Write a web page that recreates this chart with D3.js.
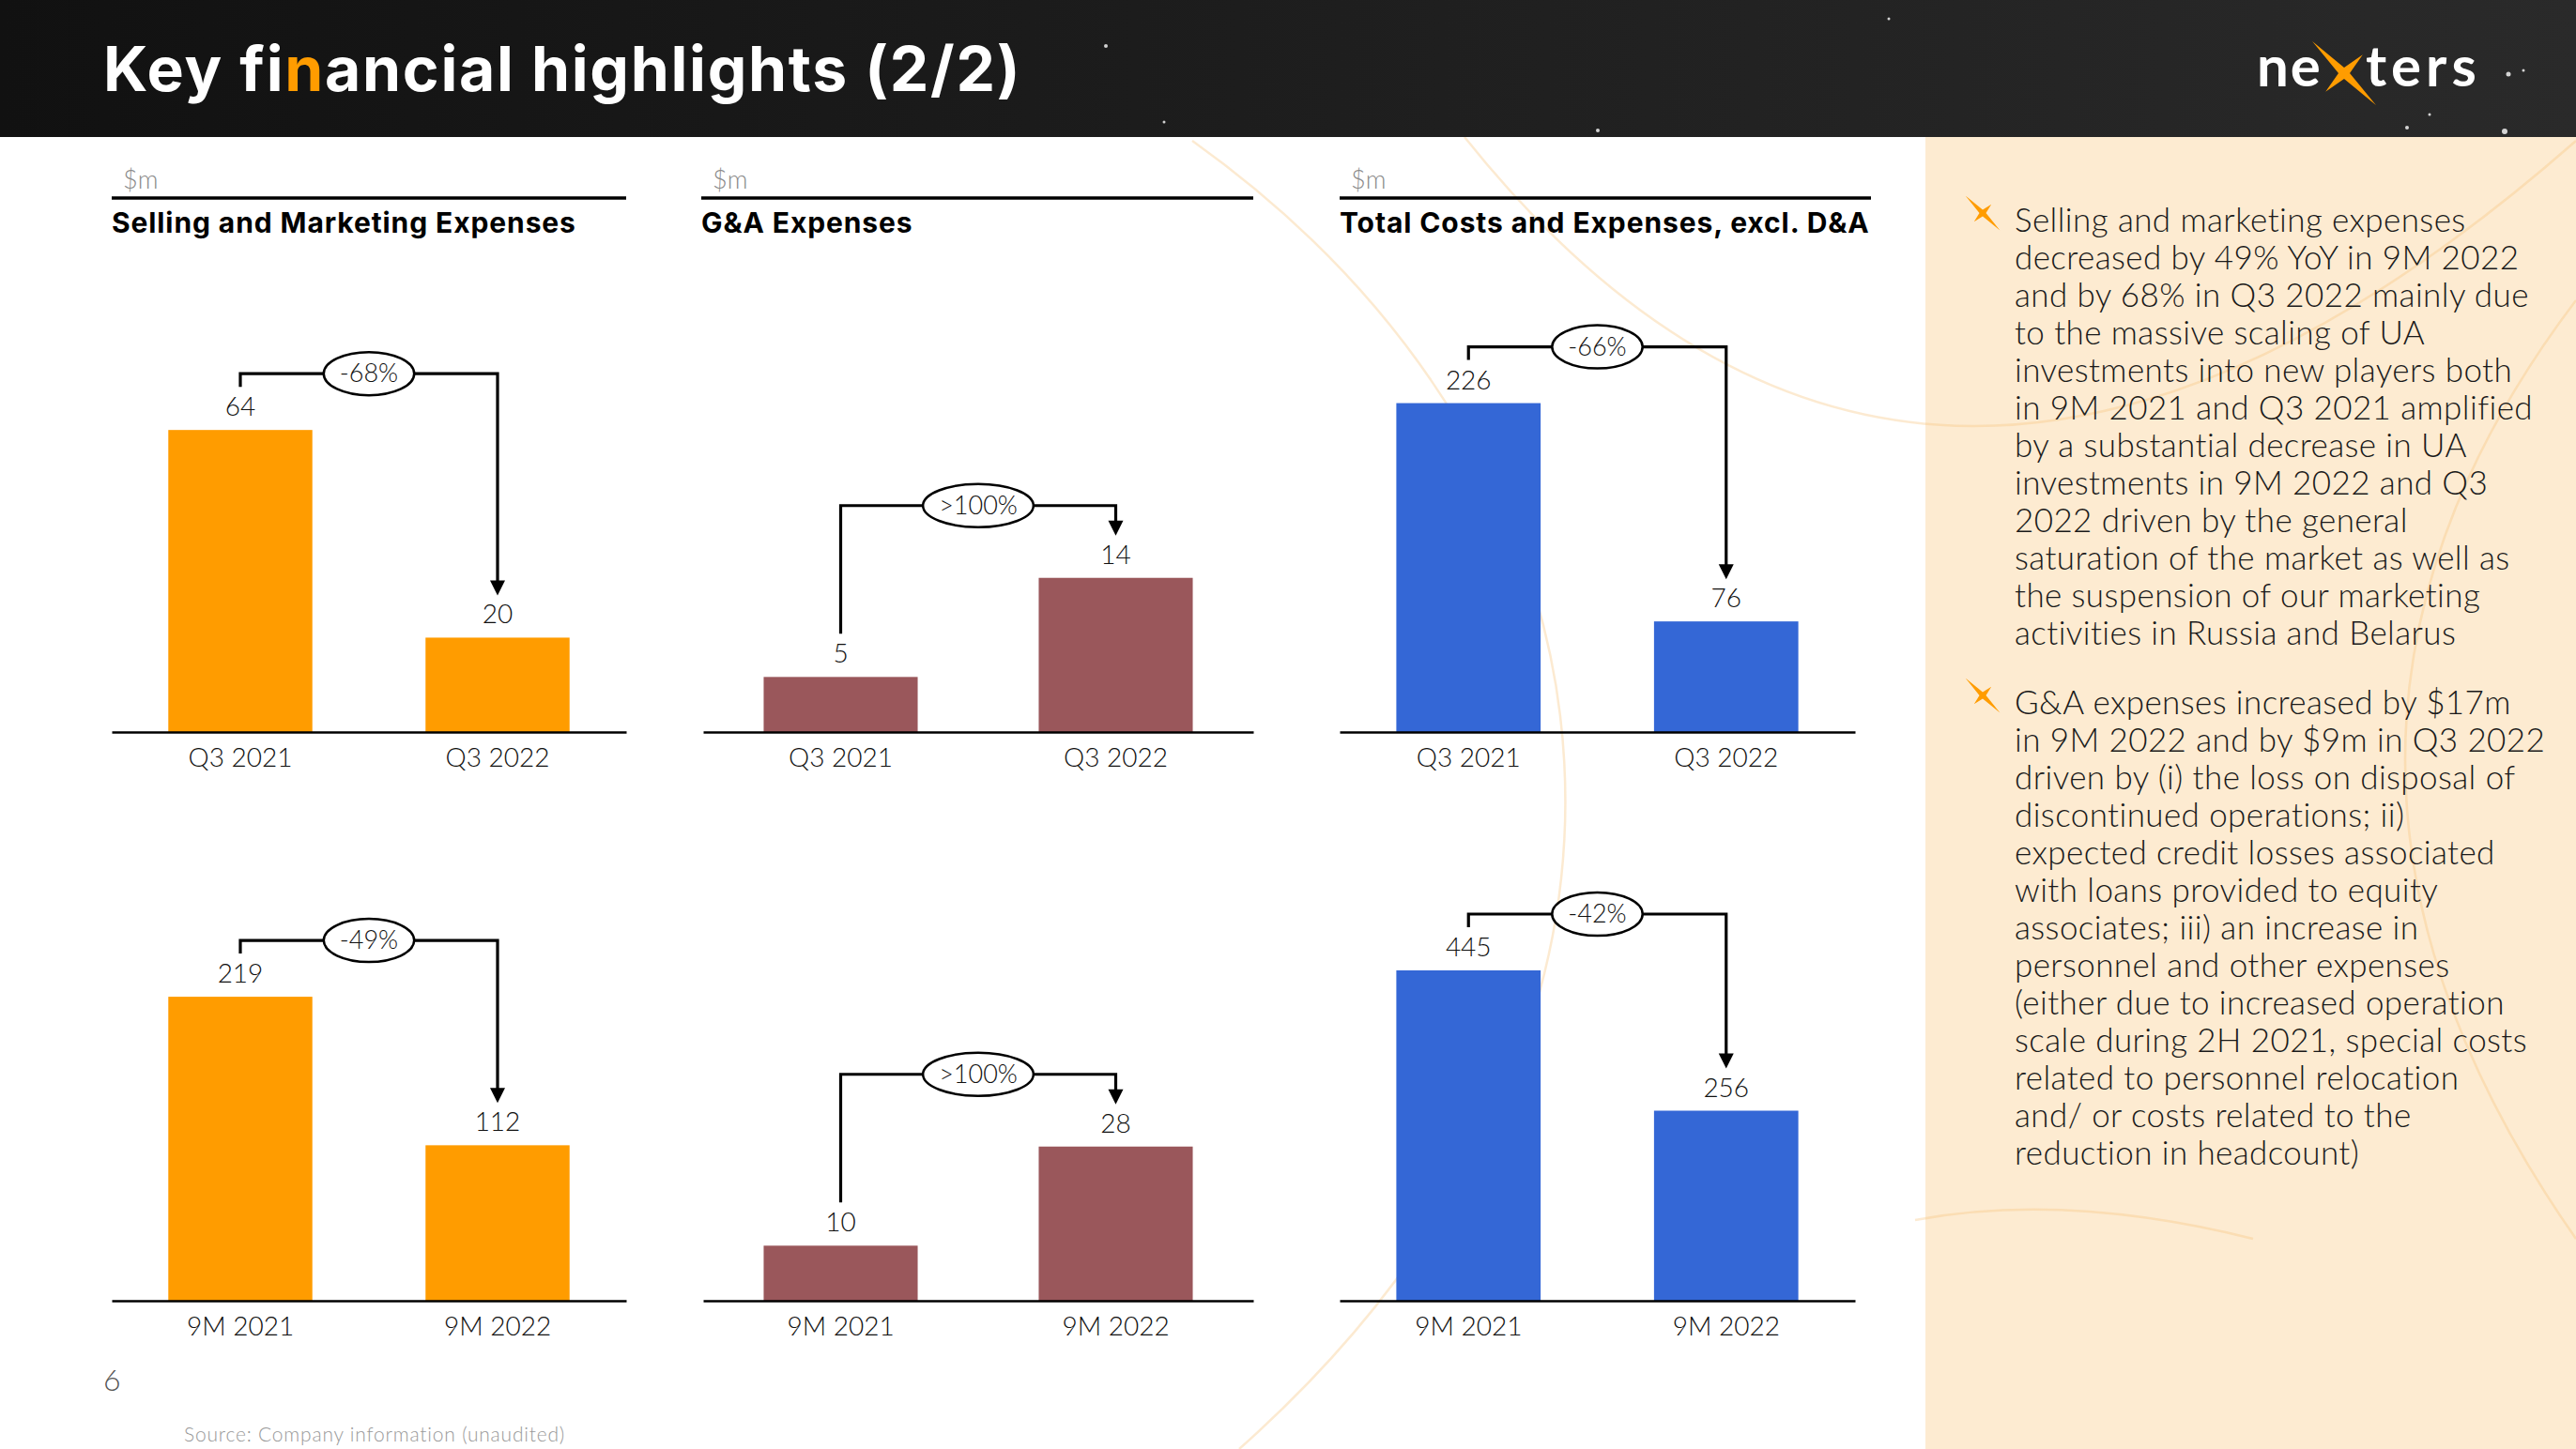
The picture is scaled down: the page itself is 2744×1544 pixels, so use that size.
<!DOCTYPE html>
<html>
<head>
<meta charset="utf-8">
<script src="https://cdn.jsdelivr.net/npm/d3@7"></script>
<style>
html, body { margin: 0; padding: 0; background: #fff; }
svg { display: block; }
</style>
</head>
<body>
<svg id="slide" width="2744" height="1544"></svg>
<script>
// ---- data ----
var panelTitles = ["Selling and Marketing Expenses", "G&A Expenses", "Total Costs and Expenses, excl. D&A"];
var quarterLabels = ["Q3 2021", "Q3 2022"];
var nineMonthLabels = ["9M 2021", "9M 2022"];
var sellingQ3 = [64, 20];
var selling9M = [219, 112];
var gaQ3 = [5, 14];
var ga9M = [10, 28];
var totalQ3 = [226, 76];
var total9M = [445, 256];
var sellingChange = ["-68%", "-49%"];
var gaChange = [">100%", ">100%"];
var totalChange = ["-66%", "-42%"];

var bulletOne = [
    "Selling and marketing expenses",
    "decreased by 49% YoY in 9M 2022",
    "and by 68% in Q3 2022 mainly due",
    "to the massive scaling of UA",
    "investments into new players both",
    "in 9M 2021 and Q3 2021 amplified",
    "by a substantial decrease in UA",
    "investments in 9M 2022 and Q3",
    "2022 driven by the general",
    "saturation of the market as well as",
    "the suspension of our marketing",
    "activities in Russia and Belarus"
];
var bulletTwo = [
    "G&A expenses increased by $17m",
    "in 9M 2022 and by $9m in Q3 2022",
    "driven by (i) the loss on disposal of",
    "discontinued operations; ii)",
    "expected credit losses associated",
    "with loans provided to equity",
    "associates; iii) an increase in",
    "personnel and other expenses",
    "(either due to increased operation",
    "scale during 2H 2021, special costs",
    "related to personnel relocation",
    "and/ or costs related to the",
    "reduction in headcount)"
];

// ---- layout ----
var W = 2744, H = 1544;
var orange = "#FF9C00";
var lightFont = "Lato, 'Open Sans', sans-serif";
var boldFont = "Inter, 'Open Sans', sans-serif";
var barColors = ["#FF9C00", "#9A575B", "#3467D6"];
var panelX = [[119, 667], [749, 1335], [1427, 1976]];
var ruleX = [[119, 667], [747, 1335], [1427, 1993]];
var rowBase = [780, 1386];
var barMaxPx = 352;
// value that maps to barMaxPx in each chart (row, panel)
var yTop = [[70, 30, 227], [238, 60, 445]];

var svg = d3.select("#slide");
var defs = svg.append("defs");

var grad = defs.append("linearGradient").attr("id", "hdr").attr("x1", "0").attr("x2", "1");
grad.append("stop").attr("offset", "0").attr("stop-color", "#111111");
grad.append("stop").attr("offset", "1").attr("stop-color", "#2a2a2a");

// background
svg.append("rect").attr("width", W).attr("height", H).attr("fill", "#fff");
svg.append("rect").attr("x", 2051).attr("y", 146).attr("width", W - 2051).attr("height", H - 146).attr("fill", "#FDEBD1");

// faint decorative arcs
var arcs = [
    "M1270,150 C1760,500 1820,1100 1320,1544",
    "M1560,146 Q2050,760 2744,150",
    "M2744,320 Q2380,800 2744,1320",
    "M2040,1300 Q2200,1270 2400,1320"
];
svg.append("g").selectAll("path").data(arcs).enter().append("path")
    .attr("d", d => d)
    .attr("fill", "none")
    .attr("stroke", "#F6C27C")
    .attr("stroke-opacity", 0.35)
    .attr("stroke-width", 2.5);

// header
svg.append("rect").attr("width", W).attr("height", 146).attr("fill", "url(#hdr)");
var stars = [[1178, 49, 2], [1240, 130, 1.5], [1702, 139, 2], [2012, 20, 1.5], [2564, 136, 2], [2588, 122, 1.5], [2672, 79, 2.5], [2688, 75, 1.5], [2668, 140, 3]];
svg.append("g").selectAll("circle").data(stars).enter().append("circle")
    .attr("cx", d => d[0]).attr("cy", d => d[1]).attr("r", d => d[2])
    .attr("fill", "#fff").attr("opacity", 0.8);

var title = svg.append("text")
    .attr("x", 110).attr("y", 97)
    .attr("font-family", boldFont).attr("font-weight", 700)
    .attr("font-size", 66).attr("letter-spacing", 1.7).attr("fill", "#fff");
title.append("tspan").text("Key fi");
title.append("tspan").attr("fill", orange).text("n");
title.append("tspan").text("ancial highlights (2/2)");

// sparkle shape, long arm along TL-BR
function sparkle(cx, cy, longArm, shortArm, inner) {
    var pts = [];
    var arms = [longArm, shortArm, longArm, shortArm];
    for (var i = 0; i < 4; i++) {
        var a = Math.PI / 4 + i * Math.PI / 2 + Math.PI; // start at top-left
        pts.push([cx + Math.cos(a) * arms[i], cy + Math.sin(a) * arms[i]]);
        var b = a + Math.PI / 4;
        pts.push([cx + Math.cos(b) * inner, cy + Math.sin(b) * inner]);
    }
    return "M" + pts.map(p => p[0].toFixed(1) + "," + p[1].toFixed(1)).join("L") + "Z";
}

// logo
var logo = svg.append("g");
logo.append("text").attr("x", 2404).attr("y", 92)
    .attr("font-family", lightFont).attr("font-weight", 700).attr("font-size", 60)
    .attr("letter-spacing", 2).attr("fill", "#fff").text("ne");
logo.append("text").attr("x", 2520).attr("y", 92)
    .attr("font-family", lightFont).attr("font-weight", 700).attr("font-size", 60)
    .attr("letter-spacing", 5).attr("fill", "#fff").text("ters");
logo.append("path").attr("d", sparkle(2497, 78, 48, 28, 6)).attr("fill", orange);

// ---- charts ----
function drawChart(values, labels, change, row, col) {
    var g = svg.append("g").attr("class", "chart");
    var base = rowBase[row];
    var x = d3.scaleBand().domain(labels).range(panelX[col]).paddingInner(0.44).paddingOuter(0.22);
    var y = d3.scaleLinear().domain([0, yTop[row][col]]).range([base, base - barMaxPx]);
    var data = labels.map((l, i) => ({ label: l, value: values[i] }));

    g.selectAll("rect").data(data).enter().append("rect")
        .attr("x", d => x(d.label))
        .attr("y", d => y(d.value))
        .attr("width", x.bandwidth())
        .attr("height", d => base - y(d.value))
        .attr("fill", barColors[col]);

    var axis = g.append("g").attr("transform", "translate(0," + base + ")")
        .call(d3.axisBottom(x).tickSize(0).tickSizeOuter(0).tickPadding(17));
    axis.select(".domain").attr("stroke", "#000").attr("stroke-width", 2.5);
    axis.selectAll("text").attr("font-family", lightFont).attr("font-weight", 300)
        .attr("font-size", 28).attr("fill", "#111");

    g.selectAll(".val").data(data).enter().append("text")
        .attr("class", "val")
        .attr("x", d => x(d.label) + x.bandwidth() / 2)
        .attr("y", d => y(d.value) - 15)
        .attr("text-anchor", "middle")
        .attr("font-family", lightFont).attr("font-weight", 300)
        .attr("font-size", 28).attr("fill", "#111")
        .text(d => d.value);

    // change bracket
    var c1 = x(labels[0]) + x.bandwidth() / 2, c2 = x(labels[1]) + x.bandwidth() / 2;
    var t1 = y(values[0]), t2 = y(values[1]);
    var lineY = Math.min(t1, t2) - (values[1] > values[0] ? 77 : 60);
    g.append("path")
        .attr("d", "M" + c1 + "," + (t1 - 46) + "V" + lineY + "H" + c2 + "V" + (t2 - 58))
        .attr("fill", "none").attr("stroke", "#000").attr("stroke-width", 3.2);
    g.append("path")
        .attr("d", "M" + (c2 - 8) + "," + (t2 - 61) + "L" + (c2 + 8) + "," + (t2 - 61) + "L" + c2 + "," + (t2 - 45) + "Z")
        .attr("fill", "#000");
    var mid = (c1 + c2) / 2;
    var ell = g.append("ellipse").attr("cx", mid).attr("cy", lineY).attr("ry", 23)
        .attr("fill", "#fff").attr("stroke", "#000").attr("stroke-width", 2.5);
    var lbl = g.append("text").attr("x", mid).attr("y", lineY + 9)
        .attr("text-anchor", "middle")
        .attr("font-family", lightFont).attr("font-weight", 300)
        .attr("font-size", 27).attr("fill", "#111")
        .text(change[row]);
    ell.attr("rx", lbl.node().getComputedTextLength() / 2 + 17);
}

var panelData = [[sellingQ3, selling9M, sellingChange], [gaQ3, ga9M, gaChange], [totalQ3, total9M, totalChange]];
panelData.forEach(function (p, col) {
    // panel header
    svg.append("text").attr("x", ruleX[col][0] + 12).attr("y", 201)
        .attr("font-family", lightFont).attr("font-weight", 300).attr("font-size", 27)
        .attr("fill", "#8a8a8a").text("$m");
    svg.append("line").attr("x1", ruleX[col][0]).attr("x2", ruleX[col][1])
        .attr("y1", 211).attr("y2", 211).attr("stroke", "#000").attr("stroke-width", 3.5);
    svg.append("text").attr("x", ruleX[col][0]).attr("y", 248)
        .attr("font-family", boldFont).attr("font-weight", 700).attr("font-size", 30)
        .attr("letter-spacing", 0.9).attr("fill", "#000").text(panelTitles[col]);

    drawChart(p[0], quarterLabels, p[2], 0, col);
    drawChart(p[1], nineMonthLabels, p[2], 1, col);
});

// ---- commentary ----
function drawBullet(lines, top) {
    svg.append("path").attr("d", sparkle(2112, top - 20, 26, 13, 3.5)).attr("fill", orange);
    var t = svg.append("text").attr("font-family", lightFont).attr("font-weight", 300)
        .attr("font-size", 35).attr("letter-spacing", 0.4).attr("fill", "#1a1a1a");
    lines.forEach(function (l, i) {
        t.append("tspan").attr("x", 2146).attr("y", top + i * 40).text(l);
    });
}
drawBullet(bulletOne, 247);
drawBullet(bulletTwo, 761);

// footer
svg.append("text").attr("x", 110).attr("y", 1482)
    .attr("font-family", lightFont).attr("font-weight", 300).attr("font-size", 32)
    .attr("fill", "#555").text("6");
svg.append("text").attr("x", 196).attr("y", 1536)
    .attr("font-family", lightFont).attr("font-weight", 300).attr("font-size", 21)
    .attr("letter-spacing", 0.8).attr("fill", "#999").text("Source: Company information (unaudited)");
</script>
</body>
</html>
